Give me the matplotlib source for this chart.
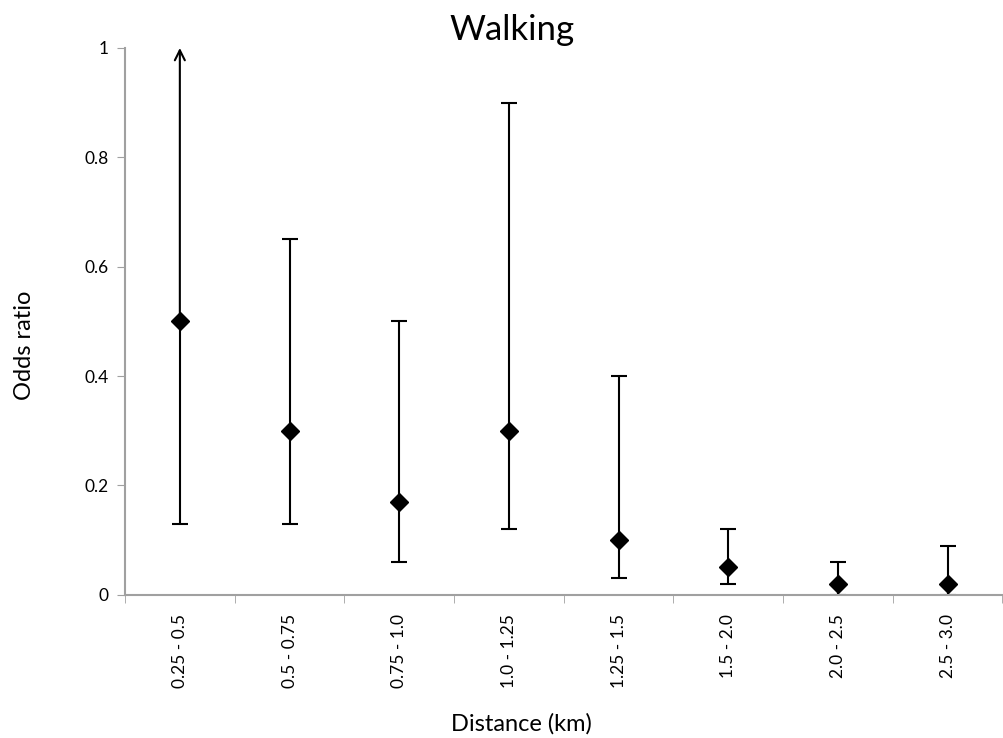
import matplotlib.pyplot as plt
import numpy as np

plt.rcParams["font.family"] = ["Lato", "DejaVu Sans"]

categories = ["0.25 - 0.5", "0.5 - 0.75", "0.75 - 1.0", "1.0 - 1.25",
              "1.25 - 1.5", "1.5 - 2.0", "2.0 - 2.5", "2.5 - 3.0"]
odds = [0.5, 0.3, 0.17, 0.3, 0.1, 0.05, 0.02, 0.02]
ci_low = [0.13, 0.13, 0.06, 0.12, 0.03, 0.02, 0.0, 0.0]
ci_high = [1.0, 0.65, 0.5, 0.9, 0.4, 0.12, 0.06, 0.09]
# first interval runs off the top of the axis (drawn as an arrow)
open_top = [True, False, False, False, False, False, False, False]

x = np.arange(len(categories))

fig = plt.figure(figsize=(10.04, 7.38), dpi=100)
ax = fig.add_axes([0.1245, 0.194, 0.874, 0.741])

for i in x:
    if open_top[i]:
        ax.errorbar(i, odds[i], yerr=[[odds[i] - ci_low[i]], [0]],
                    fmt="none", ecolor="black", elinewidth=1.5,
                    capsize=5.5, capthick=1.5)
        ax.annotate("", xy=(i, ci_high[i]), xytext=(i, odds[i]),
                    arrowprops=dict(arrowstyle="->", color="black",
                                    lw=1.5, mutation_scale=18,
                                    shrinkA=0, shrinkB=0))
    else:
        ax.errorbar(i, odds[i],
                    yerr=[[odds[i] - ci_low[i]], [ci_high[i] - odds[i]]],
                    fmt="none", ecolor="black", elinewidth=1.5,
                    capsize=5.5, capthick=1.5)

ax.plot(x, odds, linestyle="none", marker="D", markersize=9,
        color="black", zorder=5, clip_on=False)

ax.set_xlim(-0.5, len(categories) - 0.5)
ax.set_ylim(0, 1)
ax.set_yticks([0, 0.2, 0.4, 0.6, 0.8, 1.0])
ax.set_yticklabels(["0", "0.2", "0.4", "0.6", "0.8", "1"])
ax.set_xticks(x)
ax.set_xticklabels(categories, rotation=90)
ax.set_xticks(np.arange(-0.5, len(categories), 1), minor=True)

ax.tick_params(axis="x", which="major", length=0, pad=14, labelsize=12.5)
ax.tick_params(axis="x", which="minor", length=6, color="#a0a0a0",
               direction="out")
ax.tick_params(axis="y", length=6, color="#a0a0a0", labelsize=12.5, pad=6)

for side in ["top", "right"]:
    ax.spines[side].set_visible(False)
for side in ["left", "bottom"]:
    ax.spines[side].set_color("#a0a0a0")
    ax.spines[side].set_linewidth(1.5)

fig.text(512 / 1004, 1 - 30 / 738, "Walking", fontsize=25,
         ha="center", va="center")

ax.set_ylabel("Odds ratio", fontsize=17)
ax.yaxis.set_label_coords(-0.114, 0.457)
ax.yaxis.label.set_va("center")

ax.set_xlabel("Distance (km)", fontsize=17)
ax.xaxis.set_label_coords(0.452, -0.236)
ax.xaxis.label.set_va("center")

fig.savefig("out.png", dpi=100)
